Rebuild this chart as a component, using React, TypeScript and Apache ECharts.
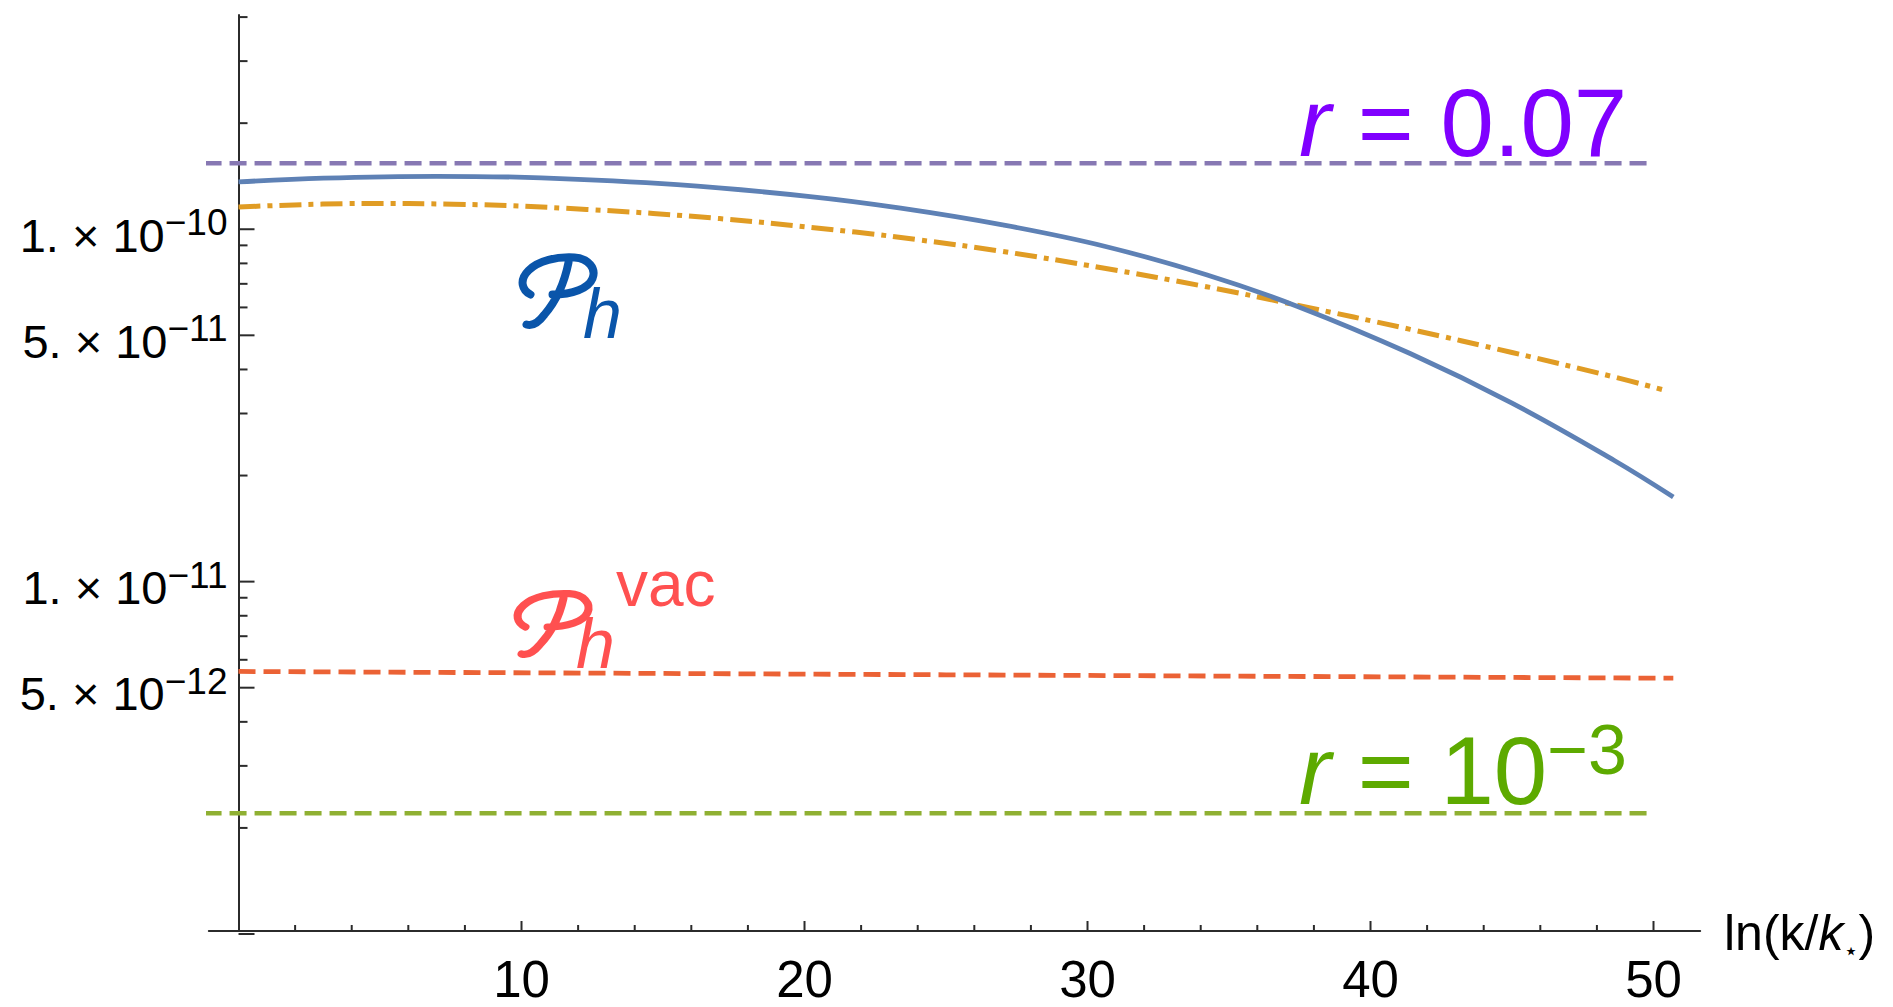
import { useEffect, useRef } from 'react';
import * as echarts from 'echarts';

// ---- data ----
const lnKBlue = [0, 3, 7, 10.7, 15.5, 20.2, 23.4, 27, 30.6, 34.2, 37.4, 41.4, 45, 48.6, 50.7];
const phBlue = [1.362e-10, 1.396e-10, 1.413e-10, 1.399e-10, 1.338e-10, 1.238e-10, 1.148e-10, 1.029e-10, 8.95e-11, 7.43e-11, 6.05e-11, 4.44e-11, 3.21e-11, 2.21e-11, 1.738e-11];

const lnKOrange = [0, 4.4, 7.6, 12.3, 17, 21.8, 24, 27, 30.6, 34.2, 37.4, 41.4, 45, 48.6, 50.3];
const phOrange = [1.156e-10, 1.183e-10, 1.178e-10, 1.138e-10, 1.072e-10, 9.815e-11, 9.34e-11, 8.65e-11, 7.75e-11, 6.87e-11, 6.09e-11, 5.2e-11, 4.47e-11, 3.81e-11, 3.51e-11];

const lnKVac = [0, 25, 50.7];
const phVac = [5.56e-12, 5.44e-12, 5.32e-12];

const lnKRef = [-1.2, 50];
const rHigh = [1.54e-10, 1.54e-10];
const rLow = [2.2e-12, 2.2e-12];

const xMin = -1.05;
const xMax = 51.65;
const yMin = 1.0198e-12;
const yMax = 4.055e-10;

const xMajorTicks = [10, 20, 30, 40, 50];
const xTickLabels = ['10', '20', '30', '40', '50'];
const xMinorTicks = [2, 4, 6, 8, 12, 14, 16, 18, 22, 24, 26, 28, 32, 34, 36, 38, 42, 44, 46, 48];

const yMajorTicks = [1e-10, 5e-11, 1e-11, 5e-12, 1e-12];
const yMinorTicks = [
  2e-12, 3e-12, 4e-12, 6e-12, 7e-12, 8e-12, 9e-12,
  2e-11, 3e-11, 4e-11, 6e-11, 7e-11, 8e-11, 9e-11,
  2e-10, 3e-10, 4e-10,
];
const yLabelValues = [1e-10, 5e-11, 1e-11, 5e-12];
const yLabelMantissa = ['1.', '5.', '1.', '5.'];
const yLabelExponent = ['−10', '−11', '−11', '−12'];

const FONT = '"Liberation Sans", Arial, Helvetica, sans-serif';
const AXIS = '#2b2b2b';

const scriptP =
  'M 46 50 C 38 46 34 36 44 26 C 54 16 72 12 90 13 C 104 14 112 24 108 34 C 104 44 88 50 68 50 M 84 18 C 80 38 72 56 60 70 C 54 78 48 82 42 80';

let registered = false;
function registerShapes() {
  if (registered) return;
  echarts.graphic.registerShape('scriptP', echarts.graphic.extendPath(scriptP, {}) as any);
  registered = true;
}

function pairs(xs: number[], ys: number[]) {
  return xs.map((x, i) => [x, ys[i]]);
}

export default function App() {
  const ref = useRef<HTMLDivElement>(null);

  useEffect(() => {
    document.body.style.margin = '0';
    registerShapes();
    const chart = echarts.init(ref.current!, null, { renderer: 'svg' });

    const option: any = {
      animation: false,
      backgroundColor: '#ffffff',
      grid: { left: 208.8, right: 192.8, top: 15, bottom: 76, containLabel: false },
      xAxis: {
        type: 'value',
        min: xMin,
        max: xMax,
        axisLine: { show: true, onZero: false, lineStyle: { color: AXIS, width: 2 } },
        axisTick: { show: false },
        axisLabel: { show: false },
        splitLine: { show: false },
      },
      yAxis: {
        type: 'log',
        logBase: 10,
        min: yMin,
        max: yMax,
        axisLine: { show: true, onZero: true, lineStyle: { color: AXIS, width: 2 } },
        axisTick: { show: false },
        axisLabel: { show: false },
        splitLine: { show: false },
        minorTick: { show: false },
      },
      series: [
        {
          type: 'line',
          name: 'r = 0.07',
          data: pairs(lnKRef, rHigh),
          showSymbol: false,
          clip: false,
          lineStyle: { color: '#8778B3', width: 4.5, type: [17, 8], cap: 'butt' },
          z: 3,
        },
        {
          type: 'line',
          name: 'r = 1e-3',
          data: pairs(lnKRef, rLow),
          showSymbol: false,
          clip: false,
          lineStyle: { color: '#8FB032', width: 4.5, type: [17, 8], cap: 'butt' },
          z: 3,
        },
        {
          type: 'line',
          name: 'Ph vac',
          data: pairs(lnKVac, phVac),
          showSymbol: false,
          lineStyle: { color: '#EB6235', width: 4.8, type: [17, 8], cap: 'butt' },
          z: 3,
        },
        {
          type: 'line',
          name: 'Ph alt',
          data: pairs(lnKOrange, phOrange),
          showSymbol: false,
          smooth: 0.4,
          lineStyle: { color: '#E09C24', width: 5, type: [22, 7, 5, 7], cap: 'butt' },
          z: 3,
        },
        {
          type: 'line',
          name: 'Ph',
          data: pairs(lnKBlue, phBlue),
          showSymbol: false,
          smooth: 0.4,
          lineStyle: { color: '#5E81B5', width: 4.8 },
          z: 4,
        },
        // y ticks (major)
        {
          type: 'custom',
          silent: true,
          z: 5,
          data: yMajorTicks.map((v) => [0, v]),
          renderItem: (params: any, api: any) => {
            const p = api.coord([api.value(0), api.value(1)]);
            return {
              type: 'line',
              shape: { x1: p[0], y1: p[1], x2: p[0] + 16, y2: p[1] },
              style: { stroke: AXIS, lineWidth: 2 },
            };
          },
        },
        // y ticks (minor)
        {
          type: 'custom',
          silent: true,
          z: 5,
          data: yMinorTicks.map((v) => [0, v]),
          renderItem: (params: any, api: any) => {
            const p = api.coord([api.value(0), api.value(1)]);
            return {
              type: 'line',
              shape: { x1: p[0], y1: p[1], x2: p[0] + 9, y2: p[1] },
              style: { stroke: AXIS, lineWidth: 2 },
            };
          },
        },
        // x ticks (major)
        {
          type: 'custom',
          silent: true,
          z: 5,
          data: xMajorTicks.map((v) => [v, yMin]),
          renderItem: (params: any, api: any) => {
            const p = api.coord([api.value(0), api.value(1)]);
            return {
              type: 'line',
              shape: { x1: p[0], y1: p[1], x2: p[0], y2: p[1] - 10 },
              style: { stroke: AXIS, lineWidth: 2 },
            };
          },
        },
        // x ticks (minor)
        {
          type: 'custom',
          silent: true,
          z: 5,
          data: xMinorTicks.map((v) => [v, yMin]),
          renderItem: (params: any, api: any) => {
            const p = api.coord([api.value(0), api.value(1)]);
            return {
              type: 'line',
              shape: { x1: p[0], y1: p[1], x2: p[0], y2: p[1] - 6 },
              style: { stroke: AXIS, lineWidth: 2 },
            };
          },
        },
        // x tick labels
        {
          type: 'custom',
          silent: true,
          z: 5,
          data: xMajorTicks.map((v) => [v, yMin]),
          renderItem: (params: any, api: any) => {
            const p = api.coord([api.value(0), api.value(1)]);
            return {
              type: 'text',
              x: p[0],
              y: p[1] + 48,
              style: {
                text: xTickLabels[params.dataIndex],
                fontSize: 51,
                fontFamily: FONT,
                fill: '#000',
                align: 'center',
                verticalAlign: 'middle',
              },
            };
          },
        },
        // y tick labels
        {
          type: 'custom',
          silent: true,
          z: 5,
          data: yLabelValues.map((v) => [0, v]),
          renderItem: (params: any, api: any) => {
            const p = api.coord([api.value(0), api.value(1)]);
            const i = params.dataIndex;
            return {
              type: 'text',
              x: p[0] - 11,
              y: p[1] + 6,
              style: {
                text: `{m|${yLabelMantissa[i]} × 10}{e|${yLabelExponent[i]}}`,
                fontFamily: FONT,
                fill: '#000',
                align: 'right',
                verticalAlign: 'middle',
                rich: {
                  m: { fontSize: 47, lineHeight: 62, verticalAlign: 'middle', fontFamily: FONT, fill: '#000' },
                  e: { fontSize: 37, lineHeight: 28, verticalAlign: 'top', fontFamily: FONT, fill: '#000' },
                },
              },
            };
          },
        },
      ],
      graphic: [
        // x axis name
        {
          type: 'text',
          x: 1724,
          y: 933,
          silent: true,
          style: {
            text: '{n|ln(k/}{i|k}{s|⋆}{n|)}',
            fill: '#000',
            verticalAlign: 'middle',
            align: 'left',
            rich: {
              n: { fontSize: 50, lineHeight: 60, fontFamily: FONT, fill: '#000', verticalAlign: 'middle' },
              i: { fontSize: 50, lineHeight: 60, fontFamily: FONT, fontStyle: 'italic', fill: '#000', verticalAlign: 'middle' },
              s: { fontSize: 24, lineHeight: 30, fontFamily: 'DejaVu Sans', fill: '#000', verticalAlign: 'bottom' },
            },
          },
        },
        // r = 0.07
        {
          type: 'text',
          x: 1299,
          y: 122,
          silent: true,
          style: {
            text: '{i|r}{n| = 0.07}',
            fill: '#8000FF',
            verticalAlign: 'middle',
            rich: {
              i: { fontSize: 96, fontFamily: FONT, fontStyle: 'italic', fill: '#8000FF', lineHeight: 110 },
              n: { fontSize: 96, fontFamily: FONT, fill: '#8000FF', lineHeight: 110 },
            },
          },
        },
        // r = 10^-3
        {
          type: 'text',
          x: 1299,
          y: 770,
          silent: true,
          style: {
            text: '{i|r}{n| = 10}{s|−3}',
            fill: '#5DAA00',
            verticalAlign: 'middle',
            rich: {
              i: { fontSize: 96, fontFamily: FONT, fontStyle: 'italic', fill: '#5DAA00', lineHeight: 110, verticalAlign: 'middle' },
              n: { fontSize: 96, fontFamily: FONT, fill: '#5DAA00', lineHeight: 110, verticalAlign: 'middle' },
              s: { fontSize: 70, fontFamily: FONT, fill: '#5DAA00', lineHeight: 47, verticalAlign: 'top' },
            },
          },
        },
        // P_h (blue)
        {
          type: 'scriptP',
          x: 484.5,
          y: 244.5,
          silent: true,
          style: { fill: 'none', stroke: '#0A55AA', lineWidth: 8, lineCap: 'round', lineJoin: 'round' },
        },
        {
          type: 'text',
          x: 583,
          y: 314,
          silent: true,
          style: { text: 'h', fontSize: 70, fontStyle: 'italic', fontFamily: FONT, fill: '#0A55AA', verticalAlign: 'middle' },
        },
        // P_h^vac (red)
        {
          type: 'scriptP',
          x: 479.5,
          y: 582,
          scaleY: 0.9,
          silent: true,
          style: { fill: 'none', stroke: '#FF5050', lineWidth: 8, lineCap: 'round', lineJoin: 'round' },
        },
        {
          type: 'text',
          x: 576,
          y: 644,
          silent: true,
          style: { text: 'h', fontSize: 70, fontStyle: 'italic', fontFamily: FONT, fill: '#FF5050', verticalAlign: 'middle' },
        },
        {
          type: 'text',
          x: 616,
          y: 584,
          silent: true,
          style: { text: 'vac', fontSize: 64, fontFamily: FONT, fill: '#FF5050', verticalAlign: 'middle' },
        },
      ],
    };

    chart.setOption(option);
    return () => {
      chart.dispose();
    };
  }, []);

  return <div ref={ref} style={{ width: 1893, height: 1007 }} />;
}
